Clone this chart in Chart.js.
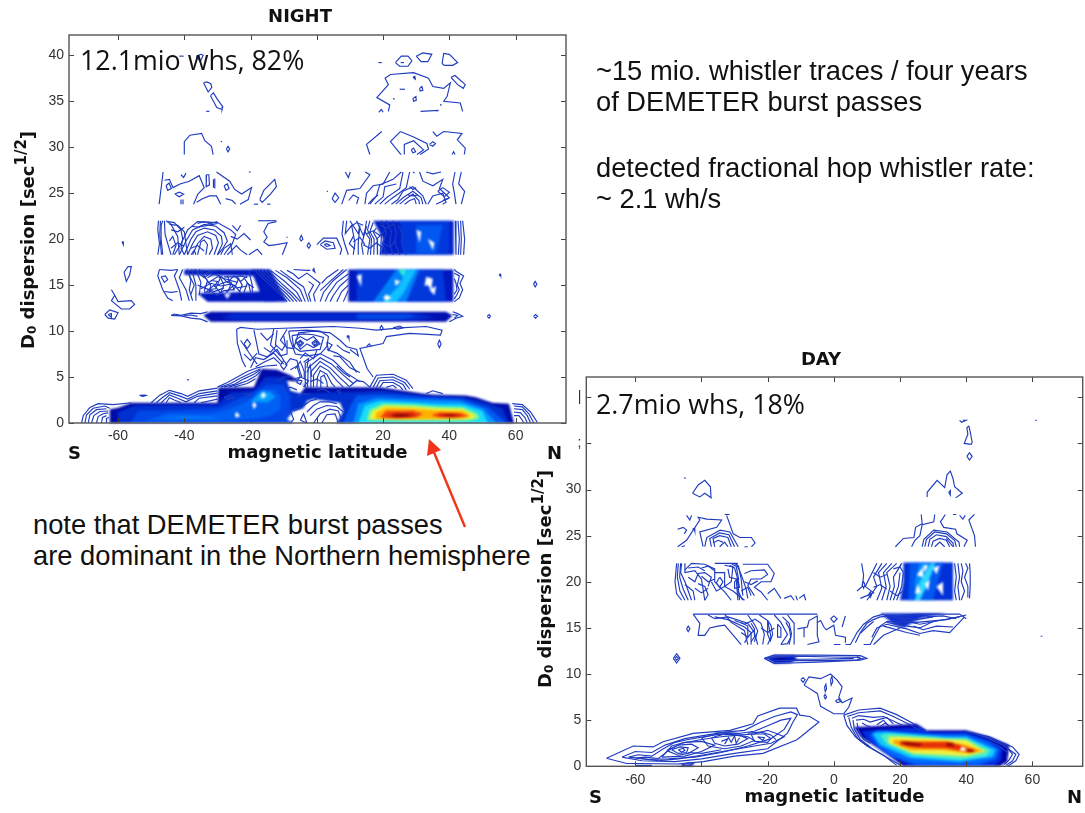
<!DOCTYPE html>
<html>
<head>
<meta charset="utf-8">
<script src="https://cdn.jsdelivr.net/npm/chart.js@4/dist/chart.umd.js"></script>
<style>
  html, body { margin: 0; padding: 0; background: #fff; width: 1085px; height: 813px; overflow: hidden; }
  canvas { position: absolute; }
  .fills { filter: blur(1.2px); }
  .lines { filter: blur(0.25px); }
  .note { position: absolute; white-space: nowrap; color: #111; font-family: "Liberation Sans", Arial, sans-serif; font-size: 27.3px; line-height: 30px; }
  .stat { position: absolute; white-space: nowrap; color: #111; font-family: "Open Sans", sans-serif; font-size: 26.8px; line-height: 30px; }
  .side { position: absolute; color: #111; font: bold 18px "DejaVu Sans", sans-serif; line-height: 20px; }
  .ytitle { position: absolute; white-space: nowrap; color: #111; font: bold 18px "DejaVu Sans", sans-serif; line-height: 22px; transform-origin: left bottom; transform: rotate(-90deg); }
  .ytitle sub { font-size: 12px; vertical-align: -2px; line-height: 0; }
  .ytitle sup { font-size: 15px; vertical-align: 8px; line-height: 0; }
  svg { position: absolute; left: 0; top: 0; }
</style>
</head>
<body>
<canvas id="nightFill" class="fills" style="left:0;top:0" width="600" height="470"></canvas>
<canvas id="nightLines" class="lines" style="left:0;top:0" width="600" height="470"></canvas>
<canvas id="dayFill" class="fills" style="left:557px;top:345px" width="528" height="468"></canvas>
<canvas id="dayLines" class="lines" style="left:557px;top:345px" width="528" height="468"></canvas>

<div class="stat" style="left:80px;top:45px">12.1mio whs, 82%</div>
<div class="stat" style="left:596px;top:389px">2.7mio whs, 18%</div>
<div class="note" style="left:596px;top:56px">~15 mio. whistler traces / four years</div>
<div class="note" style="left:596px;top:87px">of DEMETER burst passes</div>
<div class="note" style="left:596px;top:153px">detected fractional hop whistler rate:</div>
<div class="note" style="left:596px;top:184px">~ 2.1 wh/s</div>
<div class="note" style="left:33px;top:510px">note that DEMETER burst passes</div>
<div class="note" style="left:33px;top:541px">are dominant in the Northern hemisphere</div>
<div class="side" style="left:68px;top:443px">S</div>
<div class="side" style="left:547px;top:443px">N</div>
<div class="side" style="left:589px;top:787px">S</div>
<div class="side" style="left:1067px;top:787px">N</div>
<div class="ytitle" style="left:39px;top:327px">D<sub>0</sub> dispersion [sec<sup>1/2</sup>]</div>
<div class="ytitle" style="left:556px;top:666px">D<sub>0</sub> dispersion [sec<sup>1/2</sup>]</div>
<svg width="1085" height="813">
  <line x1="465" y1="527" x2="433" y2="450" stroke="#f0341a" stroke-width="2.4"/>
  <polygon points="429,439 427,456 441,450" fill="#f0341a"/>
</svg>

<script>
// axes
const xTicks = [-60, -40, -20, 0, 20, 40, 60];
const yTicks = [0, 5, 10, 15, 20, 25, 30, 35, 40];
const dayYLabels = ["0", "5", "10", "15", "20", "25", "30", ";", "|"];

// ---- NIGHT, filled levels (lat, D0 pairs), low to high, colours in nightFillColors ----
const nightFillShapes = [
  // band 12
  [-34,11.8,-32,12.1,39,12.1,41,11.7,39,11,-32,11,-34,11.6],
  [-25,11.9,30,11.9,36,11.5,30,11.15,-25,11.2,-29,11.5],
  [12,11.85,28,11.85,30,11.55,26,11.3,12,11.3],
  // band 16
  [-40,16.7,-16,16.7,-18,16,-40,16.1],
  [-36,14.1,-17,14.3,-12,13.2,-33,13.2],
  [-20,16.7,-14,16.7,-9,13.2,-16,13.2],
  [9.5,16.7,41.2,16.7,41.2,13.2,9.5,13.2],
  [12,16.7,38,16.7,39,13.2,12,13.2],
  [17,13.2,24,16.7,31,16.7,27,13.2],
  [20,13.2,25,15,27,16.7,30,16.7,26,14,24,13.2],
  [24.5,16.7,27,16.7,26,15.9],
  // band 20
  [17,22,41.3,22,41.3,18.3,19,18.3,20,20],
  [25,22,40,22,40,18.3,26,18.3],
  [30,21.5,38,21.5,36,18.5,30,18.5],
  // low, left part
  [-62.6,0,-62.5,1.5,-60,1.65,-56,2.2,-30,2.2,-29.7,3.85,-19,3.9,-16.7,5.9,-12,5.8,-8,5.2,-5,4.5,-3,3.9,13,3.9,19,3.9,32,3.2,35,3.1,45,3,48,2.8,53,2.2,58,2.1,59.5,0],
  [-60,0,-60,1.2,-55,1.9,-30,2,-26,3.3,-19,3.5,-15.5,5,-10,5,-6,4,-6,3.2,12,3.4,20,3.5,32,3,44,2.8,50,2.3,56,1.6,58,0],
  [-56,0,-54,1.3,-40,1.45,-30,1.6,-24,2.6,-20,3.2,-15,4.2,-10,4.2,-8,3,-8,0],
  [-52,0.2,-45,1.05,-32,1,-25,1.7,-20,2.6,-16.5,3.6,-13,3.7,-11,3,-11,1.5,-14,.8,-20,.4,-30,.2],
  [-48,.45,-40,.8,-33,.65,-28,.4],
  [-20,2.3,-17,3.5,-14,3.4,-12.5,2.8,-15,2.2],
  [-18,2.7,-16,3.2,-14.5,3,-16,2.6],
  // low, right hot spot
  [8,0,10,1.8,12,3,20,3.1,32,2.8,44,2.6,52,1.6,56,.4,57,0],
  [11,0,12.5,2.1,18,2.7,32,2.5,43,2.4,50,1.6,53.5,.3,54,0],
  [12.5,0,14.5,1.9,19,2.4,30,2.2,36,2.05,44,2,50,1.3,51.5,.1,51,0],
  [15,.3,16,1.45,20,2.1,29,2,36,1.8,44,1.7,48.5,1,49,.45,46,.25,25,.25],
  [16,.4,17,1.3,20.5,1.85,29,1.75,36,1.55,44,1.5,47.5,.85,47.5,.55,44,.38,25,.32],
  [17.5,.5,18,1.15,21,1.65,29,1.55,36,1.35,44,1.3,46.5,.75,44,.5,25,.42],
  [19,.6,21,1.3,29,1.32,32,1,30,.6,24,.5],
  [34.5,.85,37,1.15,43,1.1,46,.75,42,.57,37,.6],
  [21,.72,23.5,1.08,28.5,1.08,30,.85,28,.6,24,.58],
  [36.5,.85,38,1.02,42,1,44,.75,41,.63,38,.67],
  [22.5,.8,24,.98,27,.98,28.5,.8,26,.65,24,.67],
  [38.5,.85,40,.92,42,.88,41,.72,39,.73],
  // holes, white on top of the fill
  [-4,1.6,-3,2.4,-1,2.6,3,2.4,7,2.2,8,1.3,6,0,-7,0,-9,.4,-7,1.3],
  [-9,4.6,-5,4.5,-3.5,3.9,-5,3.2,-8,3.5],
  [-17,3.05,-15.9,3.4,-15.5,3,-16.2,2.7],
  [-19.5,2,-18.8,2.3,-18.2,1.9,-19,1.5],
  [-24.7,1,-24,1.2,-23.2,.7,-24.5,.6],
  [33,15.9,35,15.7,34.5,14.4,33.5,15,32.5,14.9],
  [34,14.5,36,14.9,35.5,13.9],
  [23.5,15.6,25.2,15.4,23.8,14.9],
  [20,13.6,21,14,22.5,13.6,21,13.3],
  [12,16,13.5,16.2,13.4,14.8],
  [30,21,31.5,20.8,31,19.6],
  [33.5,20,35.5,19.6,35,18.8],
  [-28,14,-26,14.1,-27,13.5],[-24,14.1,-22,14.2,-23,13.5]
];
const nightFillColors = [
  "#0010b0","#0028d0","#0048e8",
  "#0018c0","#0018c0","#0018c0","#0018c0","#0038dc","#0080f8","#10c0ff","#30f0d0",
  "#0020c8","#0038dc","#0058f0",
  "#000ca8","#0030d0","#0048e8","#0060f4","#0078ff","#0098ff","#30c0ff",
  "#0058f0","#0098ff","#18dcf8","#90f880","#f8f030","#ffb000","#f04010","#f04010","#d02008","#d02008","#900808","#900808",
  "#fff","#fff","#fff","#fff","#fff","#fff","#fff","#fff","#fff","#fff","#fff","#fff","#fff"
];

// ---- NIGHT, contour lines ----
const nightTop = [
  [-41.5,39.9,-40.2,39.9],
  [-36.3,39.9,-35,40.1,-34.3,40,-35.2,39.3,-36.3,39.9],
  [-34.2,37,-33.2,37.1,-32,36.9,-31.7,36.5,-32.8,36,-34.2,37],
  [-32.1,35.6,-31.2,35.9,-30,35.2,-28.4,34.4,-28.6,34.1,-30.2,34.3,-32.1,35.6],
  [-33.4,33.9,-32.4,33.9],
  [18.6,39.2,19.6,39.2],
  [23.7,39.2,25.5,39.9,27.5,39.9,28.7,39.4,27.5,38.8,25,38.8,23.7,39.2],
  [25.3,39.2,26.3,39.2],
  [30,39.9,32,40.25,34.7,40.1,33.5,39.3,31.5,39.3,30,39.9],
  [37.8,39.1,38.3,40.2,40,40.1,42.5,39.2,41,38.9,38.5,38.9,37.8,39.1],
  [21.6,33.9,22,34.6,18.1,35.4,21.6,36.8,20.6,37.5,22.2,37.9,29.2,38.1,33.7,37.5,35,36.6,38.3,36.4,40.3,37,39.3,35.5,38.3,35,43.3,34.8,44,33.9],
  [40.5,37.6,41.7,37.8,44.8,36.8,44.2,36.4,42.5,36.8,40.5,37.6],
  [29,37.6,29.6,37.7,29.7,37.4,29,37.6],
  [25,36.3,26.6,36.3],
  [31,36.4,31.7,36.6,32,36.2,31.2,36.1,31,36.4],
  [29,35.3,29.9,35.5,30,35.1,29.2,35,29,35.3],
  [23,35.3,23.5,35.2],
  [37.3,34.7,37.6,34.5],
  [31.3,33.9,36.5,34,36.2,33.9],
  [18.7,33.8,19.5,34.1,20,33.8]
];
const nightBand30 = [
  [-40,29.2,-40,30.6,-38.3,31.3,-34.8,31.5,-33.8,30.7,-31.8,30.1,-31.3,29.2],
  [-29,30.6,-28.6,30.6],
  [-27.3,29.8,-26.8,30.1,-26.3,29.8,-26.8,29.5,-27.3,29.8],
  [19.6,31.7,15,30.3,16,29.2],
  [25.2,31.7,22.2,30.6,25.4,29.2],
  [25.2,31.7,29.2,31.1,33.2,30.4,33.7,29.8,31.2,29.2],
  [26.4,29.2,26.4,30.3,29.2,30.7,32.2,29.7,30.2,29.2],
  [28.5,29.7,29.2,29.9,29.8,29.5,29,29.4,28.5,29.7],
  [34,30.3,35,30.6,35.8,30.4,35,30.1,34,30.3],
  [35,31.7,36.2,31.2,38.3,31.7,43.8,31.5,42.4,30.8,44.8,29.9,44.5,29.2],
  [40.8,29.2,41.3,29.5,41.7,29.2]
];
const nightBand25 = [
  [-46.4,27.3,-46.9,25.8,-47.6,23.8],
  [-46,26.4,-44.5,26.5,-43.4,25.6,-41.3,26,-38.5,26.3,-35.5,26.9,-34,25.6,-35.9,24.9,-37.2,23.8],
  [-45.5,25.8,-44.6,26.1,-43.9,25.5,-45,25.3,-45.5,25.8],
  [-42.9,24.9,-41.5,25.1,-40.2,24.9,-41.5,24.6,-42.9,24.9],
  [-41,27,-40.2,26.7,-39.5,27.2],
  [-41,24.3,-41,23.8],[-40.4,24.3,-40.4,23.8],
  [-33.3,27,-33.4,25.7,-32.4,25.9,-32.6,27,-33.3,27],
  [-30.8,26.6,-30.8,25.5],[-31.2,26.5,-31.2,25.6],
  [-30.3,27.3,-26.3,26.3,-24.8,25.4,-22.7,24.9,-19.7,25.6,-20.7,24.3,-23.2,23.8],
  [-36.3,24,-34.5,24.4,-32.4,24.7,-30.3,24.7,-29,23.8],
  [-27.5,24.4,-25.5,24.2,-24.5,23.8],
  [-28,25.8,-27,26,-26.5,25.5,-27.4,25.3,-28,25.8],
  [-17.2,24.3,-16,25.3,-12.7,26.5,-12.2,25.7,-14,24.9,-16.5,24,-17.2,24.3],
  [-15,23.8,-14,23.8],[-19,23.8,-17.7,23.8],[-20.5,27.3,-20,27.3],
  [8.6,27.3,9.5,26.7,10.1,27.3],
  [3,25.2,3.4,25.2],
  [4.6,24.4,5.5,25,6.6,24.5,5.5,24,4.6,24.4],
  [9.6,24.2,11,24.8,12.6,24.5,12,23.8],
  [7.5,23.8,9,25.3,13,25.5,16,27,14.6,27.3],
  [14.5,23.8,15,25,17,25.8,20,26,22,27.3],
  [16,23.8,18,24.7,19,25.9,23,26.5,25.5,27.3],
  [15.5,23.8,17,24.4,18.5,24.8],
  [17.5,23.8,20,24.6,20.5,25.7,24,26],
  [19,23.8,21,24.5,23,25,25,25.5,26,27.3],
  [20.5,23.8,22.5,24.4,24.5,24.9,27,25.6,28,27.3],
  [22.5,23.8,24.5,24.3,26,25.2,29,25.7,32,24.7,33,23.8],
  [23.8,23.8,26,24.5,29,25.2,31.5,24.5,32,23.8],
  [25,23.8,27,24.4,29,24.9,30.8,24.2,31,23.8],
  [26.5,23.8,28,24.2,29.5,24.4,30,23.8],
  [27.5,24.8,29,24.7,30.5,24.8],
  [28,25.7,29,25.4,30,25.6],
  [29,27.3,29.5,27.2],[33,27.3,35,27.1,37.5,27.3],
  [31,27.3,32,26.3,35,25.8,38,26.5,37,25.5,40,24.5,36,23.8],
  [33.5,23.8,35,24.7,38,25,39,24,38,23.8],
  [36.5,25.2,38,25.6,40,25.1,38.5,24.6,36.5,25.2],
  [41.7,27.3,41,26,41.5,25,42,23.8],
  [43.6,27.3,42.8,26,44.6,25.2,43.6,23.8],
  [38,24.2,39.5,24.4]
];
const nightBand20 = [
  [-48,18.3,-47.5,19.5,-48,21,-47.8,22],
  [-46.5,18.3,-47,20,-47,21.5,-46.5,22],
  [-47.2,22,-47.4,20.5,-46.9,18.3],
  [-46,22,-45.8,20.5,-45,19.5,-44,18.3],
  [-45.5,22,-44,21.6,-42,20.3,-41.5,18.3],
  [-45,21.9,-43,21.8,-41,21,-40.5,20,-41,19,-40,18.3],
  [-44.5,21.6,-42,21.5,-40,20.8,-39.5,19.5,-39,18.3],
  [-44.5,19.8,-43.5,20.3,-42.5,19.3,-43.5,18.3],
  [-43,18.3,-41,19.5,-39,21,-36,21.9,-30,21.8,-26,21,-24.5,20.5,-25.5,19.5,-27,18.8,-28,18.3],
  [-41.5,18.3,-39.5,19.8,-37.5,21,-34,21.6,-30.5,21.4,-28,20.7,-27,19.8,-28.5,18.9,-30,18.3],
  [-40,18.3,-38,20,-36.5,20.8,-34,21.2,-31,21,-28.8,20.3,-28.5,19.5,-30,18.3],
  [-39,18.3,-37.5,19.5,-36,20.4,-33,20.8,-30.5,20.4,-29.7,19.6,-31,18.3],
  [-37.5,18.3,-36,19.5,-34,20.3,-32,20,-31.5,19,-32.5,18.3],
  [-36,18.3,-35,19.7,-34,19.9,-33,19.4,-33.5,18.3],
  [-38,18.3,-37,18.8,-36.5,18.3],
  [-33,21.9,-32,21.7,-30,21.9],[-36,21.7,-34,21.9,-31,21.5],
  [-27,18.3,-24.3,19.3,-23,18.8,-21,18.3],
  [-25.5,21.5,-24,20.9,-23,21.5],
  [-29,18.3,-28,19,-26,19.5,-25.5,18.3],
  [-17.7,22,-12.2,22],
  [-12.2,21.9,-14.7,21.7,-16,20.8,-15,20.2,-16,19.7,-14.5,19.3,-12.2,19.4,-9,19.6,-10.4,18.3],
  [-20.5,18.3,-18,18.9,-16.5,18.3],
  [-58.8,19.7,-58.4,19.7,-58.4,19.4,-58.8,19.7],
  [-9.2,20.2,-8.8,20.2],
  [-5.2,20,-4.7,20.4,-4.2,20,-4.7,19.8,-5.2,20],
  [-3,19.3,-2.4,19.6,-1.9,19.3,-2.4,19,-3,19.3],
  [0,19.4,2,20.1,6,20.1,7.5,18.9,7,18.3],
  [1,19.4,2.5,19.8,5,19.6,5.5,19,3,18.9,1,19.4],
  [2.2,19.4,3,19.5,4,19.3,3,19.2,2.2,19.4],
  [8,22,7.6,20.5,8.4,19.5,9.5,18.3],
  [9,22,8.6,20.6,10.5,21.5,11.5,19.6,11,18.3],
  [10,22,12.5,20.6,13,21.5,12.5,19.6,12.5,18.3],
  [12,22,14,20.4,15,21.4,13.5,19.4,14,18.3],
  [15,22,14.5,20.8,16,20,15.3,18.3],
  [16,22,15.3,21,16.5,20,16.2,18.3],
  [17,21.8,16,20.8,17.3,20,17.2,18.3],
  [18,21.2,17,20.8,18.2,20,18.3,18.3],
  [18,20,19.5,20.5,19.2,18.3],
  [11,20.3,9.8,19.5,11.5,18.9],
  [19.5,22,21,20.7,19.8,19.5,21,18.3],
  [21,22,22.5,20.8,22,19.5,23,18.3],
  [23,22,24,20.7,23.5,19.7,25,18.3],
  [24.5,21.5,26,20.5,25.5,19.5,27,18.3],
  [41.8,22,42,20.5,42,18.3],
  [42.6,22,43,20,42.7,18.3],
  [43.4,22,43.6,20,43.4,18.3],
  [44,22,44.6,20,44.3,18.3]
];
const nightBand16 = [
  [-58.2,16.4,-57,17,-56,17,-56.5,16.1,-57.5,15.4,-58.2,16.4],
  [-62,14.5,-61,13.9,-60,13.2,-56,13.3,-55,12.9,-56.5,12.4,-59,12.4,-62,13.3,-61,13.9],
  [-64,11.8,-62.5,12.3,-60,12,-61,11.3,-63,11.4,-64,11.8],
  [-63,11.8,-62,11.9,-62,11.5,-63,11.8],
  [-47.5,16.7,-44,16.6,-42,16.7],
  [-47.5,16.7,-48,16,-46.5,14.5,-45,13.6,-43.5,13.3],
  [-47,15.9,-45.7,16,-45,15.6,-46,15.3,-47,15.9],
  [-42,16.7,-43,16,-41.5,14.5,-40.8,13.3],
  [-40.5,16.7,-41.5,15.8,-39.5,14.5,-38.5,13.3],
  [-39,16.7,-38,15.5,-38.5,14.5,-37.5,13.3],
  [-37.8,16.7,-36.5,15,-36.5,13.3],
  [-36.5,16.7,-35,15.3,-35.5,13.9],
  [-35.5,16.7,-33,15.5,-34,14.3],
  [-34.5,16.2,-32,15,-32.5,14.1],
  [-33,15.8,-31,16.2,-29,15.9,-30.5,14.6,-33,14.5],
  [-32,15.5,-30,15.4,-31,14.8],
  [-29.5,16.1,-28,15,-29,14.2],
  [-28,15.9,-25,15.9,-23,16,-21,15.8],
  [-27,16,-26,15,-27,14.2],
  [-26,15.4,-25,14.5,-23.5,15.8],
  [-24,15.9,-22.5,15,-23.5,14.2],
  [-34,14.2,-32,14.3,-30,13.9,-28,14.4,-25,14.5],
  [-30,15,-27,15.4,-24,14.7,-21,14.9],
  [-22,15.8,-20.5,15,-20,14.2],
  [-20.5,16.5,-19.5,15,-19.5,14.2],
  [-37,16.7,-34,15.8,-31,16.6],
  [-35,16.1,-32,16.5,-29,16.6],
  [-33,15.2,-30,15.9,-27,15.6,-24,15.3],
  [-35,14.6,-32,15.2,-29,14.9,-26,15.1],
  [-36,15,-34,14.7,-31,14.3,-28,14.7],
  [-29,16,-27,15.3,-25,16,-23,15.4,-21,16],
  [-33.5,14.2,-31,15,-29,14.1],
  [-27.5,14.2,-25,15,-23,14.2],
  [-22,14.2,-21,15.2,-19,14.7],
  [-46,14.3,-44,14.2,-42,14.3],
  [-39,16.4,-37,15,-38,14],
  [-19,16.7,-15,15.3,-11,14,-9,13.2],
  [-18,16.7,-14,15.3,-10,14,-8,13.2],
  [-17,16.7,-13,15.3,-9,14,-7,13.2],
  [-16,16.7,-12,15.3,-8,14,-6,13.2],
  [-15,16.7,-11,15.3,-7,14,-5,13.2],
  [-14,16.6,-10,15.5,-6,14.2,-4.5,13.2],
  [-12.5,16.6,-9,15.8,-5,14.5,-3.5,13.2],
  [-11,16.6,-8,15.8,-4,14.8,-2.5,13.2],
  [-9,16.6,-7,16.2,-5.5,15.7,-3,16.3,1,15.2,-1,14,-.5,13.2],
  [-7,16.7,-3,16.6,-2,16.6],
  [-2.5,15.4,-1,15,-2.5,14,-1.8,13.2],
  [-1.3,16.6,-.9,16.8,-.6,16.4,-1.3,16.6],
  [9,16.7,5,15.5,2,14.2,1,13.2],
  [8,16.7,4,15.4,1,14.4],
  [6.5,16.7,3,15.8,1.5,15.2],
  [9.5,16.2,6,15.3,3.5,14,2.5,13.2],
  [9.5,15.7,7,14.9,5,13.9,4,13.2],
  [9.5,15,7.5,14.3,6,13.2],
  [9.5,14.4,8,13.2],
  [41.5,16.7,42,16.5,44.3,16,43.2,15.2,44,14.5,43,13.6,41.5,13.2],
  [41.5,16.3,43,16,42.4,15,43,14.5,42.2,13.9,41.5,13.5],
  [41.5,15.7,42,15.2,42.3,14.5,41.5,14],
  [55,16,55.3,16.2,55.5,16],
  [65.4,15.1,65.9,15.4,66.4,15.1,65.9,14.8,65.4,15.1]
];
const nightBand12 = [
  [-44,11.7,-43,11.85,-41,11.7,-38,11.95,-35,11.9,-33,12.1],
  [-44,11.7,-41,11.65,-38,11.4,-35,11.3,-33,11],
  [-40,11.7,-38,11.75,-36,11.6],
  [41,12.1,42.5,11.9,44,11.6,42,11.4,40,11],
  [41,11.8,42.5,11.7,41.5,11.4],
  [51.4,11.6,52,11.8,52.4,11.6,52,11.4,51.4,11.6],
  [65.4,11.6,66,11.8,66.6,11.6,66,11.4,65.4,11.6]
];
const nightLow = [
  [-71,0,-70.5,.8,-68.5,1.7,-66,2.1,-61.5,2,-56,2.2],
  [-70,0,-69.5,.9,-67.5,1.6,-64,1.85,-62.5,1.6],
  [-69,0,-68.5,.9,-66.5,1.45,-63.5,1.55],
  [-68,0,-67.3,.8,-65.5,1.25,-63,1.3],
  [-66.5,0,-66,.7,-64.5,1,-63,1.1],
  [-65,0,-64.7,.6,-63.5,.8],[-63.5,0,-63.5,.5,-62.8,.6],
  [-50,2.2,-47.5,3,-44.5,3.55,-41,3.2,-39,2.9,-35.5,3.5,-30,3.8],
  [-48.5,2.2,-46.5,2.8,-44.5,3.3,-41.5,2.95,-39,2.6,-35.5,3.2,-30,3.5],
  [-47,2.2,-45.5,2.7,-44.5,3.05,-42,2.7,-39.5,2.3,-36,2.9,-30,3.25],
  [-45.5,2.2,-44.5,2.75,-43,2.5,-41,2.2],[-37,2.2,-35.5,2.7,-30,2.95],[-35,2.2,-30,2.6],
  [-53.5,3,-52,3.05,-51.5,3,-52.5,2.9,-53.5,3],
  [-39.2,4.7,-38.6,4.7],
  [-30,3.9,-27,4.4,-24,5,-21,5.6,-18,6,-15.5,6.2,-12,6.3],
  [-29,3.9,-26,4.3,-23,4.9,-20,5.4,-17,5.9],
  [-28,3.9,-25,4.2,-22,4.8,-19,5.3,-17,5.8],
  [-26.5,3.9,-24,4.2,-21,4.6,-18.5,5.1,-17,5.6],
  [-25,3.9,-23,4.1,-21,4.3,-18.5,4.8],
  [-24.2,10.2,-24,8.7,-22.5,6.8,-21.5,6.1],
  [-24.2,10.2,-23,10.4,-18,10.2,-10,10.3,-2,10.4,5,10.5,13,10.3,18,10.1,25,10.35,33,10.5,37.8,10.1,37.3,9.56,28,9.75,21,9.4,20,8.65,13,8.1,15.2,5.9,17,5],
  [-22,8.6,-21,9.1,-20,8.6,-21,8.1,-22,8.6],
  [-19,10.1,-18,8.4,-17.5,7.5,-15,7.2,-12,8,-10,6.8],
  [-20,6,-18.5,7.1,-16,6.9,-13,7.6,-10,6.4],
  [-18.5,6.1,-16,6.6,-13,7.1,-11,6.4],
  [-23,9,-20,7.4,-18,6.4],
  [-17,9.8,-15,9,-13,9.7],[-16,8.2,-14,7.7,-12,8.5],[-22,7.5,-20,6.8,-18,7.6],
  [6,8.5,8,7.9,10,7.6],[6,6.2,8,5.5,10,5],[-4,6.6,-2.5,7,-3,6],[-3,5.5,-2,6.3,-1.5,5],[-12,4.5,-10,5,-8,5],
  [-13,10.2,-14,8.5,-11,7.3,-9,7.5,-9,9],
  [-12,10.1,-12.5,8.5,-10.5,7.9,-9.5,8.5,-10,9.5],
  [-9,10.2,-11,9,-9,8.2,-7,8.1,-5.5,9.8,-1,10,4,9.8,7,9,9,8.3,12,8,12.5,7.3,10,8],
  [-8.5,10,-8,9,-6.5,7.5,-3,7.3,1,7.5,3,8.3,3.5,9.4,1,10,-3,10.1,-8.5,10],
  [-7.5,9.5,-7,8.3,-5,7.8,-2,7.9,1,8,2,9.3,-1,9.6,-4,9.7,-7.5,9.5],
  [-6.5,9,-5,9.4,-3,9,-1,9.4,1,8.6,-1,8.2,-3,8.6,-5,8,-6.5,9],
  [-6,8.7,-5,9,-4,8.7,-5,8.3,-6,8.7],
  [-5.5,8.7,-5,8.85,-4.5,8.7,-5,8.5,-5.5,8.7],
  [-1.5,8.7,-.5,9,.5,8.7,-.5,8.3,-1.5,8.7],
  [-1,8.7,-.5,8.85,0,8.7,-.5,8.5,-1,8.7],
  [3,8.8,4.6,8.5,3.5,7.9,3,8.8],
  [9,9.4,9.5,9.5,9.7,9.2,9,9.4],
  [15,8.3,15.8,8.6,16.5,8.3],
  [19,10.3,19.5,10.6,20,10.3,19.5,10.1,19,10.3],
  [23,10.35,25,10.55,26,10.35,24.5,10.2,23,10.35],
  [36.5,8.6,37,9,37.5,8.6,37,8.2,36.5,8.6],
  [-3.5,3.9,-3.5,6.5,1,7.55,5,6.8,9,5.4,13,4.5],
  [-2.8,3.9,-2.6,6,1,7.1,4.5,6.4,8,5.2,11,4.3],
  [-2,3.9,-1.8,5.6,1,6.7,4,6,7,4.9,10,3.9],
  [-1,3.9,-1,5.2,1,6.2,3.5,5.7,6,4.6,8,3.9],
  [0,3.9,.2,5,1,5.7,3,5.3,4.5,4.3,5.5,3.9],
  [1,3.9,1.2,5,2.2,5.2,3,4.5,3.2,3.9],
  [-5,7,-3.5,7.6,-1,7,0,7.9],
  [-9.5,6.3,-8,7,-6,6.8,-5,5.5,-4.5,5],
  [-8,5.8,-6,6.2,-5,5,-6,4.6],
  [-7.5,4.7,-5,5,-2.5,4.6,-4,3.9],
  [-6,4.7,-4.5,4.6,-5,4.2,-6,4.4,-6,4.7],
  [-11,6.3,-10,5.8,-9,6.3,-10,6.8,-11,6.3],
  [-6.5,5.9,-5,6.7,-3.8,5.6,-3.8,4.8],
  [5,7.3,7,7.2,10,6,13,5.5],
  [3,8,6,7.6,10,6.6,12,5.5],
  [10,4,12,4.6,14,4.5,16,3.9],
  [16,3.9,18,5.2,23,5.3,27,4.65,29,3.75],
  [17,3.9,18.5,4.9,23,5,26.5,4.4,28,3.7],
  [18,3.9,19,4.6,23,4.7,26,4.2,27,3.6],
  [19,3.9,20,4.4,23,4.4,25,4,26,3.6],
  [21,3.9,23,4.1,24,3.8],
  [33,3.2,35,3.5,38,3.2],
  [59,2.1,62,2,64.5,1.2,66.5,.1],
  [59.5,1.85,62,1.75,64,1,65.5,0],
  [59.5,1.55,62,1.45,63.5,.8,64.5,0],
  [59.5,1.2,61.5,1.1,62.8,.6,63.5,0],
  [59.5,.8,61,.8,62,.3,62.5,0],
  [-4,1.9,-2,2.4,0,2.6],
  [-3,1.2,-1,1.9,1,2.3,4,2.3,6,2.1],
  [-2,.8,0,1.5,3,1.9,6,1.8,8,1.2],
  [-1,0,1,1,4,1.5,6.5,1.3,7.5,.3],
  [1.5,0,3,.9,5.5,1,6.5,0],
  [-5,.3,-3,0,-4,1,-5,.3],
  [-9.5,1,-8,1.3,-7,.4,-8,0],
  [-7,1.3,-5,1.6,-3,2.2],
  [-28,2.8,-26,3,-25,2.7,-27,2.6,-28,2.8],
  [-22,3.2,-20,3.1,-21,2.8],
  [-2,4.5,0,4.8,2,4.3],
  [6,3.5,7,3.6,7,3.2,6,3.5],
  [-6,2.8,-4,3.2,-2,3.1],[0,3.5,2,3.7,4,3.3],[-10,3.5,-8,3.9,-6,3.6]
];
const nightBand20Extra = [
  [10,21.3,12,21.8,14,21.5],[11,19.7,13,20.2,14.5,19.4],[14,19.4,16,19,18,19.6,20,19],
  [15,20.6,17,20.9,19,20.4,21,21],[19,21.5,21,21.2,23,21.6],[20,19.5,22,19.2,24,19.8],
  [-44,21,-42,20.8,-40,21.3],[-44,19,-42,19.6,-40,19.2],[-38,21.4,-36,21.3,-33,21.5,-30,21.7],
  [-38,19,-36,19.3,-34,18.7],[-26,20.3,-24,20,-22,20.6,-20,19.9]
];

// ---- DAY, filled levels ----
const dayFillShapes = [
  // band 12
  [-20.5,11.7,-18,12.05,-12,12,-11,11.6,-13,11.2,-18,11.15],
  [-18.5,11.7,-16,11.9,-14,11.7,-16,11.4],
  // band 16
  [14,16.6,34,16.6,26,16,21,15,18,15.4],
  // band 20
  [21,22.1,36,22.1,36,18,20,18,21,20],
  [23,22.1,33,22.1,30,18,22.5,18],
  [24.5,20,26,22,31,22,28,19.3,25,18],
  [24.5,18,26,20,29.5,22,30.5,22,28,19.5,26,18],
  [27,21.8,28.5,21.8,27.5,21],
  [30,21.5,32,21.8,31,20.8],[25,20.7,27,21.6,27,20.5],[27.5,19.8,29,20.2,28.5,19],
  [24.5,18.7,25.3,19.8,26.3,18.8],[31,19.5,33,20,33,18.5],
  // low
  [6,4.3,8.6,4.3,25,4.6,28,3.9,40,3.9,47,3.2,53,2.3,52.4,.5,50,0,21,0,14,1.8,8,3.2],
  [8.5,3.8,14,4,26,4.2,29,3.7,40,3.7,47,2.9,51,2,50.5,.6,48,0,23,0,15,1.5,10,2.9],
  [11,3.4,13,3.9,28,3.5,40,3.45,47,2.6,50,1.8,49,.8,44,.2,25,.2,18,1,13,2.3],
  [11.6,3.6,16,3.75,34,3.2,40,3.2,49,1.8,48,1,38,.5,23,.9,14,2.3],
  [14,3.4,17,3.55,34,3.05,40,3.05,47.5,1.75,46,1.1,38,.75,24,1.15,16,2.4],
  [16.6,3.2,20,3.2,40,2.85,46,1.6,40,1.1,24,1.4,16.6,2.5],
  [18,2.85,34,2.75,40,2.3,45,1.65,41,1.4,33,1.77,23,1.77,18,2.5],
  [20,2.7,26,2.6,34,2.67,38,2.3,43,1.65,41,1.5,34,1.95,25,2,20,2.3],
  [20.2,2.65,22,2.7,27,2.45,26,2.2,22,2.25],[34,2.6,36,2.55,36.5,2.15,34,2.15],[40,1.85,42,1.85,42.5,1.55,40.5,1.55],
  [38,1.75,38.7,2.15,40.2,1.85,39.5,1.65],
  // bottom of the left lobe
  [-47,.1,-43,.3,-42,0,-47,0]
];
const dayFillColors = [
  "#0018c0","#0008a8",
  "#1030d0",
  "#0030d8","#0058f0","#0090ff","#30d8ff","#fff","#fff","#fff","#fff","#fff","#fff",
  "#0000a8","#0030e0","#0068ff","#10c8ff","#50f0c0","#f0f040","#ffa000","#e83008","#a00808","#a00808","#a00808","#fff",
  "#0018c0"
];

// ---- DAY, contour lines ----
const dayTop = [
  [38,37.5,38.6,37.3,39.9,37.5,39,37.5],
  [40.8,36.9,41.3,36.1,41.8,35.1,41.5,34.9,39.4,35,40.5,36,40.2,36.7,40.8,36.9],
  [40.2,33.6,41,34,41.8,33.6,41,33.2,40.2,33.6],
  [60.9,37.5,61.3,37.5]
];
const dayBand30 = [
  [-45.2,31.3,-44.8,31.2],
  [-42.7,29.6,-41,30.5,-39,31,-37.3,30.3,-37.1,29.1,-37.4,29.2,-39,29.6,-40.5,29.2,-42.7,29.6],
  [28.2,29.2,28.2,29.7,31.2,31,33.5,30.2,34.2,31.6,35.2,32,36,31.2,36.5,30.3,38.8,29.6,36.8,29.1],
  [34.7,29.7,35.2,29.9,35.2,29.4,34.7,29.7]
];
const dayBand25 = [
  [-47.2,25.7,-45.5,25.9,-44.5,25.6,-45.2,25.2],
  [-44.5,27.2,-43.5,26.7,-43,27.2],
  [-42.7,25.7,-42.2,25.8,-42,25.5],
  [-47.2,23.8,-44.5,24.5,-42.5,25.6,-40.5,26.7,-41,27,-38.4,26.8,-33.9,26.7,-35.4,25.9,-40.5,25.4,-39.5,23.8],
  [-39,23.8,-38.4,24.8,-34.4,25.6,-31.4,25.4,-28.9,23.8],
  [-37,23.8,-37.5,24.7,-34.5,25.3,-31.7,25.1,-30,23.8],
  [-36,23.8,-36.5,24.7,-34.5,25,-32,24.8,-31,23.8],
  [-36.5,24.2,-35,24.5,-33.5,24.3],
  [-34.5,23.8,-33,24.3,-32,23.8],
  [-33,27.3,-31.5,27.3],
  [-32.4,27.2,-30.4,25.2,-28.4,24.8,-24.9,24.8,-23.8,24.2,-24.9,23.8],
  [-46,23.8,-45,23.9],[-27,23.8,-26,23.8],
  [18.6,23.8,21,24.7,24.2,24.8,24.7,25.9,26.7,26.3,26.4,27.3],
  [30.5,27.3,30.2,26.5,26.7,26.2,26,25,24.5,24.5,23.5,23.8],
  [33.7,27.3,32.2,26.5,33.2,25.9,36.8,25.7,37.2,25.2,40.3,24.5,39.3,23.8],
  [42.5,27.3,40.8,26.7,42.5,25,42.8,23.8],
  [36,27.3,37,27.3],[38,27.2,39,26.8,39.7,27.2],
  [26.7,23.8,27.2,24.6,30.2,25.6,34.2,25.4,37.8,24.3,38,23.8],
  [27.5,23.8,28,24.6,30.5,25.4,34,25.2,36.5,24.5,37,23.8],
  [28.5,23.8,29,24.6,31,25.1,34,24.9,36,24.2,36.2,23.8],
  [29.5,23.8,30,24.4,32,24.7,34,24.5,35,23.8],
  [30.5,23.8,32,24.3,33.5,23.8],
  [34,24.7,36,23.8]
];
const dayBand20 = [
  [-47.5,22,-48,20,-47.5,18.7,-46,18],
  [-47,22,-47.3,20.5,-46.5,19,-45,18],
  [-46.3,22,-46.6,20.5,-45.5,19.2,-44,18],
  [-46,22,-46.3,21,-45,20,-43,18],
  [-45,22,-45,21,-42,21.2,-40,20.3,-39,18],
  [-45,21.3,-43,22,-39,21.9,-36,21.4,-36,20,-33,18.9,-31,18],
  [-44,20.5,-42,20,-41,20.9,-39,21,-37,20.5,-38,19.5],
  [-45,19.7,-42.5,19,-42,18],
  [-41,19.8,-39,19.5,-38,18.6,-39,18],
  [-40,21.5,-38,21.7,-36,21.2],
  [-40,20.6,-38,20,-36,20.3],[-44,21.5,-41,21.6,-39,21.2],[-42,19.3,-40,18.8,-38,19.3],
  [-27,20,-25,19.7,-23,20.1],[-28,19,-26,19.4,-25,18.5],
  [-36,22,-33,22,-29,22],
  [-36,21,-33,21,-33,19.5,-35.5,19,-37,20],
  [-34.5,20.5,-33.5,20,-34.5,19.4,-35.5,19.9,-34.5,20.5],
  [-33,21.8,-30.5,21.6,-31,20,-33,19.5,-30.5,19,-27,18],
  [-32,21.4,-31.5,20.5,-29.5,20.3,-29,18],
  [-31.5,21.8,-30,21.5,-29.2,20.5,-28.5,18],
  [-30.8,21.9,-29.5,21.7,-28.8,20.3,-29,19,-27.5,18],
  [-30.2,22,-28.8,21.7,-28,20.3,-27.5,18.5],
  [-29.5,22,-28,20.8,-26.5,19.2,-26,18.2],
  [-30,20,-29,20.4,-28.5,19.4,-30,19.3,-30,20],
  [-27.5,21.9,-24,21.9,-20,21.9,-18,20.9,-19,20,-22,20,-24,19.4,-22,18.9,-20,18],
  [-27,20.9,-25,21.2,-21,21.3,-20,20.8,-22,20.3,-25,20.3,-26,19.6,-24,18.5],
  [-20,18.7,-18,19.3,-16,18.2],
  [-15,18.2,-13,18.5,-12,18],[-10.5,18.2,-9,18.6,-8.5,18],
  [-11.5,18.5,-11,18],
  [8.4,22,9,20.7,8.6,19.5,7,19],
  [8,18.2,12,18.8,9.5,19.5,13,22],
  [14.5,22,12,20.5,13,19.5,10,18],
  [16,22,13.5,21,14.5,19.3,13,18],
  [17.5,22,15,21,15.8,19.5,14.5,18],
  [19,22,16,21,17,19.5,16,18],
  [20.5,22,18,20.5,18.3,19.5,17,18],
  [20,21,19.5,19.5,18,18],
  [21,21,20.5,19.5,19,18],
  [12,21,14,20.5,16,20.8],[12,19.4,14,19.7,16,19.2],[18,21.4,20,21.6,21,21],[17,19,19,18.5,21,19],
  [8.5,19.7,9,20,9.4,19.7,9,19.3,8.5,19.7],
  [10.5,18.6,11,18.9,11.4,18.6,11,18.3,10.5,18.6],
  [36.5,22,37,20.5,36.5,19,37,18],
  [37.5,22,38,20.5,37.5,19.5,38,18],
  [38.5,22,39,21.2,38.5,20,39.5,19,38.5,18],
  [39.8,22,40.5,21.5,39.5,20.5,40.5,19.5,40.5,18.3],
  [41,22,41.2,21,41.2,19.5,41,18.2]
];
const dayBand16 = [
  [-44.5,14.9,-44,15.2,-43.5,14.9,-44,14.6,-44.5,14.9],
  [-48.5,11.7,-47.5,12.2,-46.5,11.7,-47.5,11.2,-48.5,11.7],
  [-48,11.7,-47.5,11.9,-47,11.7,-47.5,11.5,-48,11.7],
  [-42.5,16.5,-40.5,15.5,-41,14.2,-39,14.2,-37.5,15,-35,15.2,-33,15.3,-28,13.2],
  [-42.5,16.5,-38,16.5,-33,16.5,-20,16.5,-5,16.5],
  [-38,16.4,-36,16,-32,16.2,-26,15.5,-24,14.5,-23,13.2],
  [-36,16.2,-32,15.9,-27,15.1,-25,14.5,-25,13.2],
  [-33,16.5,-31,15.6,-27,14.7,-26,13.2],
  [-28,15.6,-26,15.2,-26,14,-27,13.4],
  [-30,15.8,-27,15.4,-24,15.9],[-22,15,-20,14.5,-18,15],[-28,14.5,-26,14,-24,14.8],
  [-26,16.4,-24,15.4,-23,14.7,-24,13.5],
  [-25,15.5,-24,14.9,-24,14,-25,13.5],
  [-24,16,-22,15.5,-21,14.3,-21.5,13.2],
  [-22.5,16.4,-20,15.8,-19,14,-20,13.2],
  [-20,15.8,-19,15.3,-18.5,14.3,-19.2,13.6,-20,14.3,-20,15.8],
  [-18,16.4,-16,15.6,-14,14.3,-16,13.2],
  [-17,15.4,-16,15,-16,14,-17,14,-17,15.4],
  [-15.5,16.2,-13.5,15.5,-12.8,14.4,-13.5,13.2],
  [-14.5,15.6,-13.5,15,-13,14,-14,13.3,-16,13.2],
  [-14,16.4,-12,15.5,-12,13.2],
  [-11,14.9,-8,15.1,-7.5,15.8,-5,16.3,-5,14.2,-4.5,13.5,-8,13.2],
  [-9,14,-9,15],
  [-5,15.6,-4,15.8,-3,15.1,-2.3,14.8,0,15.3,.5,14.2,3.5,14,3.5,13.4],
  [-1,16,0,16.3,1,16,0,15.6,-1,16],
  [2.5,15.1,3.5,16.3],
  [0,13.2,2,13.2],
  [3.5,13.2,5,13.2,5.5,13.5,7,14.5,9,15.4,12,16.2,15,16.5],
  [6.5,13.4,8,14.5,10,15.5,12,15.9,14,16.2,25,16.5,38,16.5,40,16],
  [9,13.2,11,13.2,12,13.9,14,15.2,16,15.7,25,15.6,34,15.9,40,16.4],
  [11.5,14,13,15,16,15.4,22,14.9,26,14.4,30,14.7,35,14.5,39.5,16.2],
  [24,15.2,27,14.8,31,15.2,36,15.1],[28,16.2,33,16.3,37,16],
  [8,14.4,10,15.1,12,15.7],
  [12,13.2,15,14.2,20,15],
  [15,15.2,17,15,22,14.5,26,14.2],
  [16,15.6,20,15.3,26,15,30,15.7],
  [18,16.3,22,15.7,26,15.4,32,15.8,38,16.2],
  [20,16.2,25,15.9,30,16.2],
  [62.5,14.1,63,14.1]
];
const dayBand12 = [
  [-21,11.7,-18,12.05,-5,12.05,8,12,10,11.7,8,11.5,-5,11.3,-13,11.2,-18,11.15,-21,11.7],
  [-21,11.7,-12,11.95,0,11.85,8,11.8],
  [-19,11.5,-10,11.45,0,11.45,7,11.55,9,11.7],
  [-12,11.6,-5,11.6,0,11.65,6,11.7],
  [7,11.9,8,11.7,7,11.55]
];
const dayLow = [
  // left lobe, rings
  [-68.7,.87,-60.6,2.2,-54.6,2.1,-51.6,2.67,-42.5,3.57,-31.4,3.9,-24.4,4.6,-23,5.45,-16.4,6.3,-11.3,6.3,-10.3,5.55,-7.3,5.4,-4.5,4.8,-10,3.2,-11.3,2.85,-21.4,1.4,-30,1.1,-39.4,.5,-47.4,.25,-58.6,.3,-62.6,.3,-68.7,.87],
  [-64,1,-60,1.6,-55,1.5,-51,2.3,-45,3,-40,3.3,-33,3.7,-27,3.9,-22,4.8,-18,5.4,-13,5.9,-11,5.6,-12.5,4.7,-14,3.6,-20,1.9,-30,1.4,-40,.8,-48,.5,-58,.6,-64,1],
  [-62,1,-59,1.25,-55,1.1,-51.5,1.9,-48,2.6,-44,2.9,-36,3.4,-30,3.5,-24,3.8,-20,4.4,-16,5,-13,5.2,-15,4,-19,3,-26,2.2,-34,1.5,-42,1,-50,.8,-56,.75,-62,1],
  [-60,.9,-57,1,-53,.85,-50,1.7,-46,2.5,-40,2.9,-34,3.2,-28,3.4,-24,3.5,-20,3.9,-17,3.5,-15,3.2,-19,2.5,-24,2.2,-32,1.7,-40,1.2,-47,.8,-53,.6,-60,.9],
  [-52,1,-49,2.2,-45,2.6,-40,2.7,-36,2.3,-40,1.6,-45,1.1,-52,1],
  [-50.5,1.7,-47,2.3,-43,2.4,-41,2,-44,1.4,-47,1.2,-50.5,1.7],
  [-49,1.8,-46.5,2.1,-44,2,-44.5,1.5,-47,1.4,-49,1.8],
  [-47,1.8,-45.5,1.95,-45,1.7,-46,1.55,-47,1.8],
  [-40,3.1,-35,3.5,-30,3.4,-26,3.2,-24,2.8,-28,2.2,-33,1.9,-38,2.2,-40,3.1],
  [-37,3.1,-33,3.5,-28,3.3,-26,3,-29,2.4,-33,2.2,-36,2.5,-37,3.1],
  [-36,3.6,-33,3.65,-30,3.6,-33,3.4],
  [-35,3.4,-32,3.55,-28,3.5],
  [-32,3.2,-31,2.6,-30,3.3,-29.5,2.5,-28.5,3.1],
  [-34,2.7,-32,3,-33,2.4],
  [-25,3.5,-21,3.5,-19,3,-20,2.6,-24,2.7,-25,3.5],
  [-23,3.2,-21,3.1,-21.5,2.8,-23,3.2],
  [-26,3.6,-22,3.7,-19,3.4,-17.5,2.9],
  [-46,0,-43.5,.1,-42.5,.3,-44,.4,-46,.1],
  [-60,.1,-55,.1],
  [-44,1.5,-40,1.4,-34,1.8],
  // small middle shape
  [-10,9.4,-9.3,9.6,-8.7,9.4,-9.3,9.1,-10,9.4],
  [-9,8.8,-7.5,9.7,-4,9.5,-1,10,1,9.35,2.5,8.6,1.5,7.5,2.5,6.9,5.5,7.4,4.5,6.4,3,5.7,0,5.7,-4,6.5,-5,7.9,-9,8.8],
  [-2.8,8.6,-2.4,8.9,-2.2,8.4,-2.6,8.1,-2.8,8.6],
  [-1,9.4,-.6,9.7,-.3,9.2,-.8,8.8,-1,9.4],
  [-3,7.6,-2.6,7.8,-2.2,7.5,-2.6,7.3,-3,7.6],
  [.5,7.1,1.5,7.3,2,7,1,6.9,.5,7.1],
  // arcs over the hot spot
  [3,5.55,7.5,6.1,14,6.3,19,5.6,24,4.65,27.7,3.9],
  [3,5.55,4,4.4,6.5,3.2,9,2.5,14,1.4,20,.15],
  [4,5.4,7.5,5.8,14,6,18,5.4,23,4.5,26,3.9],
  [4.5,5.3,5.3,4.2,7.2,3,10,2.2,15,1.2,19,.1],
  [5.5,5.2,7.5,5.5,12,5.3,15,5.4,18,4.9,21,4.4],
  [5.8,5,6.2,4,8,2.9,11,2.1],
  [6.7,5,9,5.1,11,4.8,13,5,16,5.3,18,4.6],
  [7,4.7,7.5,3.9,9,2.9,11,2.5],
  [8.5,4.7,10,4.4,11,4.3],
  [13,4.5,15,5,16.5,4.4],
  [14,4.3,15.5,4.7,17,4.3],
  [39,3.8,42,3.6,47,3.2,50,2.7,54,2.1,56,1.3,55,.6,52.5,0],
  [42,3.6,47,3,51,2.3,55,1.3,54,.6,52,.1],
  [44,3.4,48,2.8,52,2.2,54,1.3,53,.7,51.5,.2],
  [47,2.6,50,2.2,52.5,1.5,52,.9]
];

const nightLines = [...nightTop, ...nightBand30, ...nightBand25, ...nightBand20, ...nightBand20Extra, ...nightBand16, ...nightBand12, ...nightLow];
const dayLines = [...dayTop, ...dayBand30, ...dayBand25, ...dayBand20, ...dayBand16, ...dayBand12, ...dayLow];

const xRange = [-74.8, 75.2];
const yRange = [0, 42.2];

function toPoints(flat) {
  const pts = [];
  for (let i = 0; i < flat.length; i += 2) pts.push({ x: flat[i], y: flat[i + 1] });
  return pts;
}

// MATLAB style inward ticks on all four sides, plus the box
const boxPlugin = {
  id: "box",
  afterDraw(chart) {
    const { ctx, chartArea: a, scales: { x, y } } = chart;
    ctx.save();
    ctx.strokeStyle = "#444";
    ctx.lineWidth = 1;
    ctx.beginPath();
    x.ticks.forEach((t) => {
      const px = Math.round(x.getPixelForValue(t.value)) + 0.5;
      ctx.moveTo(px, a.bottom); ctx.lineTo(px, a.bottom - 5);
      ctx.moveTo(px, a.top); ctx.lineTo(px, a.top + 5);
    });
    y.ticks.forEach((t) => {
      const py = Math.round(y.getPixelForValue(t.value)) + 0.5;
      ctx.moveTo(a.left, py); ctx.lineTo(a.left + 5, py);
      ctx.moveTo(a.right, py); ctx.lineTo(a.right - 5, py);
    });
    ctx.stroke();
    ctx.lineWidth = 1.4;
    ctx.strokeStyle = "#555";
    ctx.strokeRect(a.left, a.top, a.right - a.left, a.bottom - a.top);
    ctx.restore();
  },
};

function makeFill(id, shapes, colors, box) {
  // reversed: Chart.js paints the first dataset last
  const datasets = shapes.map((s, i) => ({
    data: toPoints(s.concat(s.slice(0, 2))), showLine: true, fill: "shape", tension: 0,
    backgroundColor: colors[i], borderWidth: 0, pointRadius: 0,
  })).reverse();
  new Chart(document.getElementById(id), {
    type: "scatter",
    data: { datasets },
    options: {
      responsive: false, animation: false, events: [],
      layout: { padding: { left: box.pad + box.axis, right: box.right, top: box.top, bottom: box.bottom } },
      plugins: { legend: { display: false }, tooltip: { enabled: false } },
      scales: {
        x: { display: false, min: xRange[0], max: xRange[1] },
        y: { display: false, min: yRange[0], max: yRange[1] },
      },
    },
  });
}

function makeLines(id, lines, title, box, titlePad, xTitlePad, yLabels) {
  const datasets = lines.map((l) => ({
    data: toPoints(l), showLine: true, fill: false, tension: 0,
    borderColor: "#1f3cc0", borderWidth: 1.15, pointRadius: 0,
  }));
  new Chart(document.getElementById(id), {
    type: "scatter",
    data: { datasets },
    plugins: [boxPlugin],
    options: {
      responsive: false, animation: false, events: [],
      // the left padding keeps the title centred where the reference has it
      layout: { padding: { left: box.pad, right: box.right, top: 0, bottom: 0 } },
      plugins: {
        legend: { display: false }, tooltip: { enabled: false },
        title: { display: true, text: title, color: "#111", padding: titlePad, font: { family: "'DejaVu Sans'", size: 18, weight: "bold" } },
      },
      scales: {
        x: {
          min: xRange[0], max: xRange[1],
          grid: { display: false, drawTicks: false }, border: { display: false },
          afterBuildTicks: (s) => { s.ticks = xTicks.map((v) => ({ value: v })); },
          afterFit: (s) => { s.height = box.bottom; },
          ticks: { color: "#333", padding: 5, maxRotation: 0, autoSkip: false, font: { family: "'Liberation Sans'", size: 14 } },
          title: { display: true, text: "magnetic latitude", color: "#111", padding: xTitlePad, font: { family: "'DejaVu Sans'", size: 18, weight: "bold" } },
        },
        y: {
          min: yRange[0], max: yRange[1],
          grid: { display: false, drawTicks: false }, border: { display: false },
          afterBuildTicks: (s) => { s.ticks = yTicks.map((v) => ({ value: v })); },
          afterFit: (s) => { s.width = box.axis; },
          ticks: {
            color: "#333", padding: 5, autoSkip: false, font: { family: "'Liberation Sans'", size: 14 },
            callback: (v) => (yLabels ? yLabels[yTicks.indexOf(v)] : v),
          },
        },
      },
    },
  });
}

const nightBox = { pad: 34, axis: 35, right: 34, top: 35, bottom: 47 };
const dayBox = { pad: 2.3, axis: 27, right: 2.3, top: 32, bottom: 46.7 };
makeFill("nightFill", nightFillShapes, nightFillColors, nightBox);
makeLines("nightLines", nightLines, "NIGHT", nightBox, { top: 7, bottom: 6.4 }, { top: 0, bottom: 6.2 });
makeFill("dayFill", dayFillShapes, dayFillColors, dayBox);
makeLines("dayLines", dayLines, "DAY", dayBox, { top: 4.2, bottom: 6.2 }, { top: 0, bottom: 5.2 }, dayYLabels);
</script>
</body>
</html>
